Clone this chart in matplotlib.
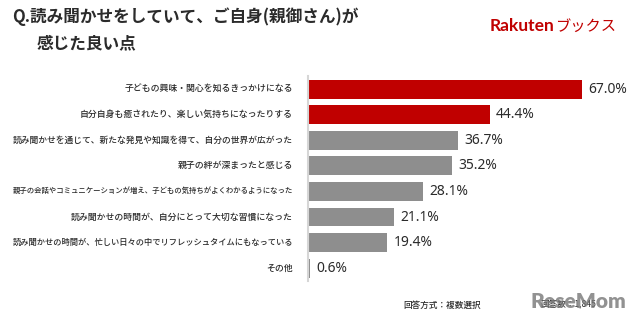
import matplotlib
matplotlib.use("Agg")
import matplotlib.pyplot as plt

plt.rcParams['font.family'] = ['Noto Sans CJK JP', 'DejaVu Sans']

items = [
    "子どもの興味・関心を知るきっかけになる",
    "自分自身も癒されたり、楽しい気持ちになったりする",
    "読み聞かせを通じて、新たな発見や知識を得て、自分の世界が広がった",
    "親子の絆が深まったと感じる",
    "親子の会話やコミュニケーションが増え、子どもの気持ちがよくわかるようになった",
    "読み聞かせの時間が、自分にとって大切な習慣になった",
    "読み聞かせの時間が、忙しい日々の中でリフレッシュタイムにもなっている",
    "その他",
]
shares = [67.0, 44.4, 36.7, 35.2, 28.1, 21.1, 19.4, 0.6]
highlight = [True, True, False, False, False, False, False, False]

RED = "#c00000"
GRAY = "#8e8e8e"
TEXT = "#2b2b2b"

fig = plt.figure(figsize=(6.4, 3.24), dpi=100)
ax = fig.add_axes([308 / 640, 0.1327, 332 / 640, 0.632])

ypos = list(range(len(items)))
colors = [RED if h else GRAY for h in highlight]
ax.barh(ypos, shares, height=0.74, color=colors, zorder=2)

ax.set_xlim(0, 332 / 4.09)
ax.set_ylim(len(items) - 0.5, -0.5)

renderer = fig.canvas.get_renderer()
for y, label, v in zip(ypos, items, shares):
    t = ax.text(-3.7, y, label, ha="right", va="center", fontsize=6.4,
                fontweight="medium", color=TEXT)
    # shrink the long category names so they stay inside the figure
    w = t.get_window_extent(renderer).width
    if w > 280:
        t.set_fontsize(6.4 * 280 / w)
    ax.text(v + 1.5, y, f"{v:.1f}%", ha="left", va="center", fontsize=10,
            color=TEXT, family=["Noto Sans", "DejaVu Sans"])

for side in ["top", "right", "bottom"]:
    ax.spines[side].set_visible(False)
ax.spines["left"].set_color("#d6d6d6")
ax.spines["left"].set_linewidth(1.5)
ax.set_xticks([])
ax.set_yticks([])

# title
fig.text(12 / 640, 1 - 17 / 324, "Q.読み聞かせをしていて、ご自身(親御さん)が",
         fontsize=12, fontweight="bold", color=TEXT, va="center", ha="left")
fig.text(37 / 640, 1 - 43 / 324, "感じた良い点",
         fontsize=12, fontweight="bold", color=TEXT, va="center", ha="left")

# brand mark
fig.text(490 / 640, 1 - 26 / 324, "Rakuten", fontsize=12.5, fontweight="bold",
         color=RED, va="center", ha="left", family=["Lato", "DejaVu Sans"])
fig.text(555 / 640, 1 - 26 / 324, "ブックス", fontsize=11, color=RED,
         va="center", ha="left")

# footer
fig.text(403 / 640, 1 - 305 / 324, "回答方式：複数選択", fontsize=6.2,
         fontweight="medium", color=TEXT, va="center", ha="left")
fig.text(540 / 640, 1 - 305 / 324, "回答数：1,845", fontsize=6.2,
         color=TEXT, va="center", ha="left")
fig.text(530 / 640, 1 - 302 / 324, "ReseMom", fontsize=15, fontweight="heavy",
         color="#777777", alpha=0.8, va="center", ha="left",
         family=["Lato", "DejaVu Sans"])

fig.savefig("out.png", dpi=100, facecolor="white")
